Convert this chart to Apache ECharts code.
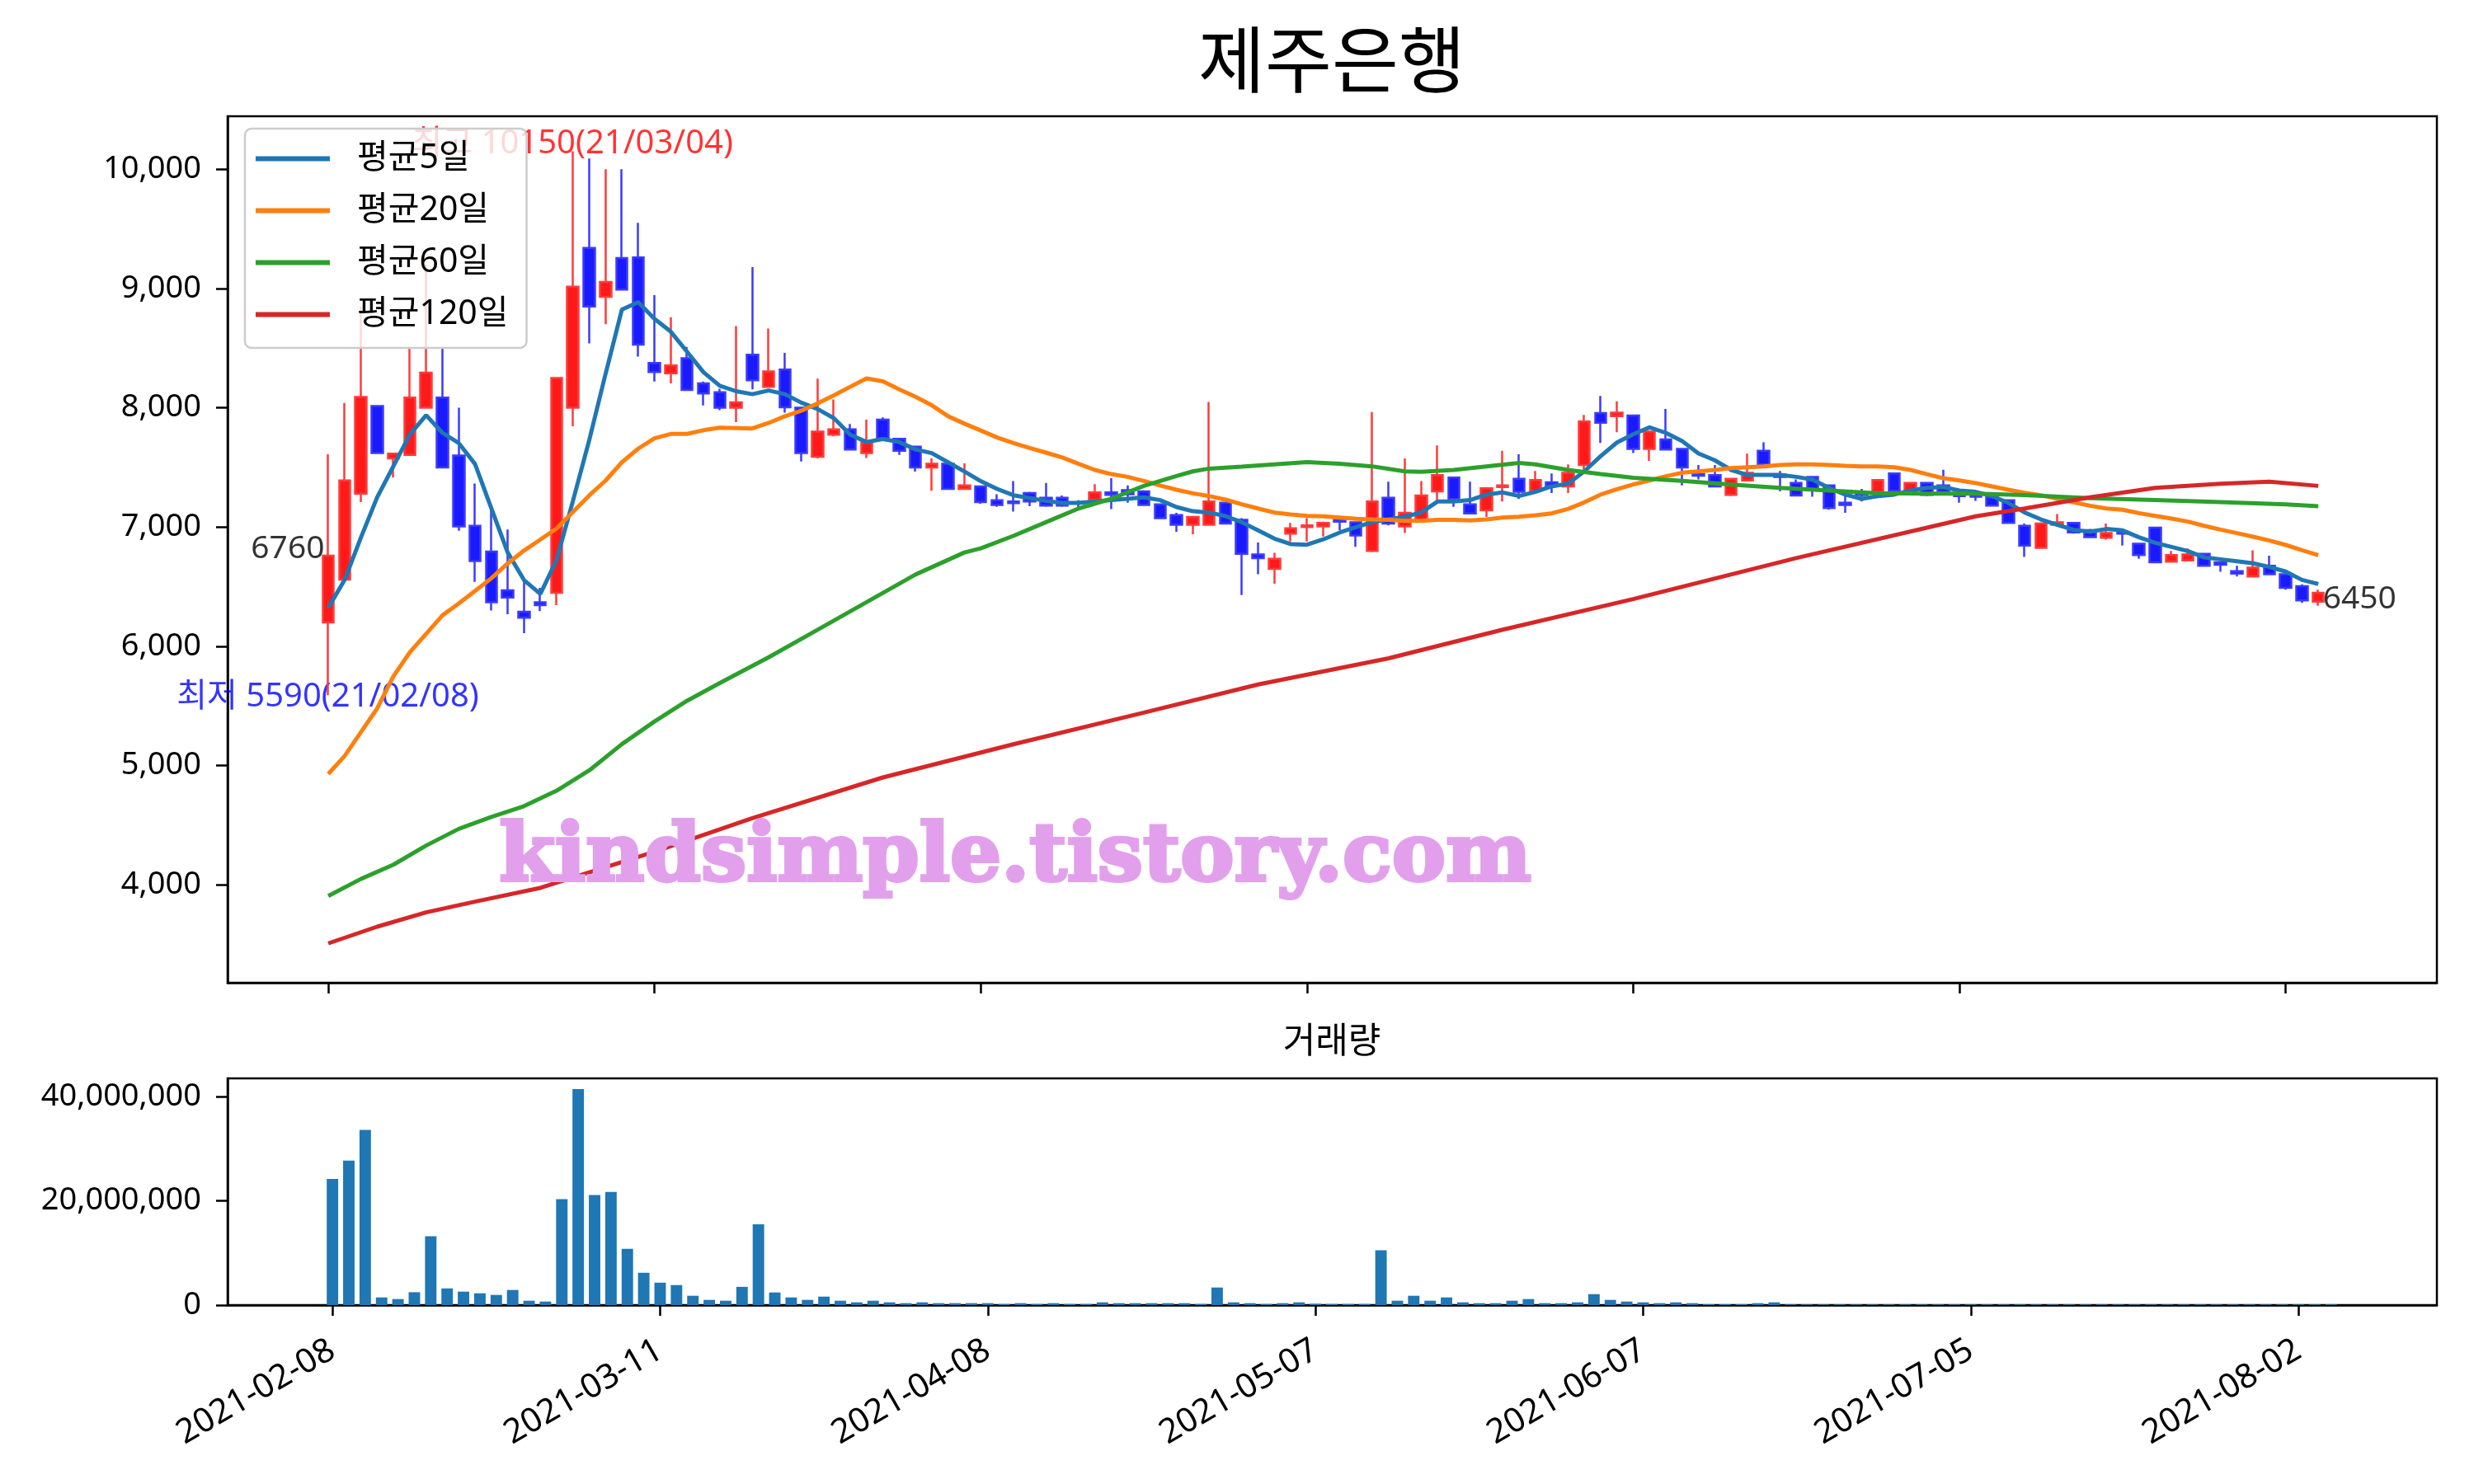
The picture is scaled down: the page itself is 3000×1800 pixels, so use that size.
<!DOCTYPE html>
<html><head><meta charset="utf-8">
<script src="https://cdn.jsdelivr.net/npm/echarts@6/dist/echarts.min.js"></script>
<style>html,body{margin:0;padding:0;background:#fff}#c{width:3000px;height:1800px}</style>
</head><body><div id="c"></div>
<script>
// ---- data (index = trading day from 2021-02-08) ----
const tickIdx = [0, 20, 40, 60, 80, 100, 120];
const tickLabels = ['2021-02-08','2021-03-11','2021-04-08','2021-05-07','2021-06-07','2021-07-05','2021-08-02'];
const priceTicks = [4000, 5000, 6000, 7000, 8000, 9000, 10000];
const volTicks = [0, 20000000, 40000000];

const opens = [6200,6560,7280,8015,7575,7605,8000,8085,7600,7010,
6795,6470,6290,6370,6450,8000,9340,8930,9255,9260,
8375,8290,8415,8205,8130,8000,8445,8175,8320,8000,
7590,7775,7820,7620,7900,7740,7675,7500,7530,7320,
7340,7225,7215,7285,7245,7245,7205,7230,7290,7310,
7300,7190,7100,7020,7020,7205,7060,6770,6650,6945,
7000,7005,7060,7040,6800,7245,7005,7065,7300,7415,
7190,7140,7335,7405,7305,7375,7340,7520,7955,7930,
7935,7655,7735,7655,7445,7435,7270,7390,7640,7440,
7370,7420,7350,7205,7290,7295,7450,7295,7370,7350,
7285,7285,7250,7225,7010,6825,7020,7035,6975,6910,
6960,6860,6995,6710,6720,6775,6705,6630,6585,6675,
6605,6505,6375];
const closes = [6760,7390,8090,7620,7615,8085,8295,7500,7005,6715,
6370,6410,6240,6345,8250,9015,8850,9055,8990,8530,
8300,8355,8150,8120,8000,8045,8230,8305,8005,7620,
7800,7820,7650,7705,7745,7640,7500,7530,7320,7350,
7210,7185,7200,7215,7180,7180,7200,7290,7270,7275,
7185,7075,7020,7085,7215,7030,6775,6740,6735,6990,
7015,7035,7045,6930,7215,7030,7120,7265,7435,7235,
7115,7325,7350,7295,7395,7350,7455,7885,7875,7960,
7655,7800,7650,7500,7430,7340,7405,7455,7525,7420,
7265,7320,7160,7185,7270,7395,7305,7370,7270,7295,
7260,7255,7180,7035,6845,7030,7040,6955,6915,6950,
6945,6765,6705,6765,6770,6675,6685,6610,6660,6605,
6490,6385,6450];
const lows = [5590,6550,7210,7620,7415,7605,8000,7500,6970,6540,
6300,6270,6110,6295,6345,7845,8540,8700,8990,8430,
8220,8205,8150,8020,7980,7880,8155,8175,7960,7550,
7575,7760,7650,7580,7745,7605,7465,7305,7320,7320,
7195,7170,7130,7175,7170,7170,7155,7230,7150,7205,
7185,7075,6960,6940,7020,7030,6430,6605,6525,6880,
6880,6920,6975,6835,6790,7015,6950,7065,7225,7170,
7115,7085,7215,7235,7305,7285,7285,7480,7705,7795,
7620,7555,7650,7350,7400,7340,7260,7390,7525,7300,
7265,7255,7145,7120,7215,7295,7305,7295,7260,7295,
7205,7220,7180,7035,6750,6825,7020,6945,6915,6895,
6845,6735,6705,6710,6720,6675,6625,6585,6585,6605,
6475,6365,6340];
const highs = [7610,8040,8850,8020,7620,8510,9200,8510,8000,7365,
7140,6980,6550,6490,8255,10150,10090,10000,10000,9550,
8945,8760,8510,8220,8160,8685,9180,8665,8460,8000,
8245,8070,7865,7900,7920,7745,7680,7575,7560,7535,
7345,7275,7385,7295,7370,7265,7225,7360,7410,7350,
7310,7195,7120,7090,8050,7210,7075,6870,6785,7035,
7075,7045,7065,7045,7965,7380,7575,7385,7685,7415,
7380,7325,7640,7610,7470,7450,7525,7940,8100,8055,
7935,7800,7990,7655,7520,7520,7405,7615,7710,7470,
7400,7420,7350,7260,7320,7395,7450,7370,7370,7480,
7320,7290,7260,7225,7030,7040,7110,7035,6985,7030,
6965,6865,6995,6800,6820,6780,6710,6675,6805,6760,
6605,6520,6475];
const volumes = [24200000,27700000,33600000,1470000,1160000,2470000,13200000,3200000,2580000,2260000,
1950000,2900000,840000,680000,20300000,41400000,21100000,21700000,10800000,6200000,
4300000,3840000,1790000,1000000,840000,3500000,15500000,2420000,1470000,1000000,
1630000,840000,530000,840000,530000,370000,530000,370000,370000,370000,
370000,200000,370000,200000,370000,200000,200000,530000,370000,370000,
370000,370000,370000,200000,3370000,530000,370000,200000,370000,530000,
250000,200000,200000,200000,10500000,840000,1790000,840000,1470000,530000,
370000,370000,840000,1160000,370000,370000,530000,2100000,1000000,680000,
530000,370000,530000,370000,150000,150000,150000,370000,530000,120000,
120000,120000,120000,120000,120000,120000,120000,120000,120000,120000,
120000,120000,120000,120000,120000,120000,120000,120000,120000,120000,
120000,120000,120000,120000,120000,120000,120000,120000,120000,120000,
120000,120000,120000];
const ma5 = [6324,6556,6911,7250,7512,7775,7938,7790,7704,7528,
7157,6787,6556,6439,6725,7219,7728,8284,8823,8885,
8746,8638,8469,8299,8185,8139,8114,8145,8114,8043,
7990,7913,7775,7713,7738,7713,7651,7620,7543,7466,
7385,7320,7267,7244,7219,7203,7203,7214,7226,7237,
7249,7226,7168,7133,7122,7092,7041,6972,6903,6857,
6852,6897,6954,7000,7041,7064,7087,7122,7214,7214,
7226,7272,7290,7260,7295,7341,7364,7467,7594,7709,
7778,7836,7790,7721,7617,7560,7479,7437,7437,7437,
7421,7398,7329,7272,7237,7260,7272,7306,7329,7336,
7306,7295,7260,7202,7122,7064,7018,6977,6961,6984,
6972,6915,6868,6834,6799,6746,6730,6714,6696,6666,
6627,6557,6523];
const ma20 = [4930,5080,5280,5480,5750,5950,6105,6260,6360,6465,
6571,6695,6803,6895,6988,7127,7265,7389,7543,7657,
7744,7781,7781,7812,7833,7830,7827,7873,7929,7975,
8037,8105,8176,8246,8222,8154,8092,8021,7929,7867,
7810,7751,7705,7663,7624,7583,7530,7479,7444,7421,
7387,7348,7313,7283,7260,7230,7191,7156,7122,7106,
7094,7090,7080,7069,7064,7060,7053,7053,7060,7060,
7055,7064,7080,7087,7099,7115,7152,7207,7272,7318,
7357,7391,7426,7456,7467,7479,7495,7502,7509,7520,
7525,7525,7520,7513,7509,7509,7502,7479,7444,7410,
7391,7368,7341,7313,7288,7267,7237,7207,7179,7156,
7145,7117,7094,7071,7046,7011,6979,6949,6919,6887,
6850,6806,6765];
// 60- and 120-day averages read at sample days: [day index, value]
const ma60 = [[0,3907],[2,4050],[4,4170],[6,4330],[8,4470],[10,4570],[12,4660],[14,4790],[16,4960],[18,5180],
[20,5370],[22,5544],[24,5692],[27,5908],[30,6139],[33,6371],[36,6602],[39,6787],[40,6822],[42,6926],
[44,7041],[46,7156],[48,7237],[50,7345],[52,7428],[53,7467],[54,7490],[56,7507],[58,7525],[60,7544],
[62,7530],[64,7509],[66,7467],[67,7463],[69,7479],[71,7509],[73,7537],[74,7525],[76,7479],[78,7444],
[80,7414],[83,7387],[86,7357],[89,7329],[92,7306],[95,7283],[98,7280],[101,7280],[104,7268],[108,7242],
[112,7226],[116,7209],[120,7191],[122,7175]];
const ma120 = [[0,3510],[3,3650],[6,3770],[9,3860],[13,3975],[20,4278],[26,4560],[34,4901],[42,5179],[50,5444],[57,5680],[65,5900],
[72,6140],[80,6396],[90,6740],[101,7090],[104,7156],[108,7249],[112,7329],[116,7364],[119,7380],[122,7345]];

const title = '제주은행';
const volTitle = '거래량';
const watermark = 'kindsimple.tistory.com';
const seriesNames = ['평균5일','평균20일','평균60일','평균120일'];
const lineColors = ['#1f77b4','#ff7f0e','#2ca02c','#d62728'];
const maxIdx = 15, minIdx = 0, lastIdx = 122;
const maxText = '최고 10150(21/03/04)';
const minText = '최저 5590(21/02/08)';

// ---- chart ----
const FONT = "'Noto Sans','Noto Sans CJK KR',sans-serif";
const chart = echarts.init(document.getElementById('c'), null, {renderer: 'canvas'});
const fmtNum = v => Math.round(v).toLocaleString('en-US');
const xLabel = v => { const k = tickIdx.indexOf(Math.round(v)); return k >= 0 ? tickLabels[k] : ''; };

const candleData = opens.map((o, i) => [i, o, closes[i], lows[i], highs[i]]);
const maLists = [ma5.map((v, i) => [i, v]), ma20.map((v, i) => [i, v]), ma60, ma120];

const lineSeries = maLists.map((d, k) => ({
  type: 'line', name: seriesNames[k], xAxisIndex: 0, yAxisIndex: 0, data: d,
  symbol: 'none', smooth: false, lineStyle: {color: lineColors[k], width: 5},
  itemStyle: {color: lineColors[k]}, z: 3, silent: true
}));

const axisLineStyle = {color: '#000', width: 2.5};
const option = {
  animation: false,
  backgroundColor: '#ffffff',
  textStyle: {fontFamily: FONT},
  grid: [
    {left: 276, top: 141, width: 2679, height: 1051, show: true, borderColor: '#000', borderWidth: 2.5, backgroundColor: 'transparent'},
    {left: 276, top: 1308, width: 2679, height: 275, show: true, borderColor: '#000', borderWidth: 2.5, backgroundColor: 'transparent'}
  ],
  xAxis: [
    {type: 'value', gridIndex: 0, min: -6.17, max: 129.27,
     axisLine: {show: true, onZero: false, lineStyle: axisLineStyle},
     axisTick: {show: true, length: 13, lineStyle: axisLineStyle, customValues: tickIdx},
     axisLabel: {show: false, customValues: tickIdx},
     splitLine: {show: false}},
    {type: 'value', gridIndex: 1, min: -6.40, max: 128.45,
     axisLine: {show: true, onZero: false, lineStyle: axisLineStyle},
     axisTick: {show: true, length: 13, lineStyle: axisLineStyle, customValues: tickIdx},
     axisLabel: {show: true, customValues: tickIdx, formatter: xLabel, rotate: 30, margin: 52,
                 fontSize: 41, color: '#000', fontFamily: FONT},
     splitLine: {show: false}}
  ],
  yAxis: [
    {type: 'value', gridIndex: 0, min: 3180, max: 10444,
     axisLine: {show: true, onZero: false, lineStyle: axisLineStyle},
     axisTick: {show: true, length: 14, lineStyle: axisLineStyle, customValues: priceTicks},
     axisLabel: {show: true, customValues: priceTicks, formatter: fmtNum, fontSize: 38, color: '#000', margin: 32, fontFamily: FONT},
     splitLine: {show: false}},
    {type: 'value', gridIndex: 1, min: 0, max: 43470000,
     axisLine: {show: true, onZero: false, lineStyle: axisLineStyle},
     axisTick: {show: true, length: 14, lineStyle: axisLineStyle, customValues: volTicks},
     axisLabel: {show: true, customValues: volTicks, formatter: fmtNum, fontSize: 38, color: '#000', margin: 32, fontFamily: FONT},
     splitLine: {show: false}}
  ],
  legend: {
    data: seriesNames, orient: 'vertical', left: 297, top: 156,
    icon: 'rect', itemWidth: 90, itemHeight: 6, itemGap: 22,
    padding: [16, 22, 20, 13],
    backgroundColor: 'rgba(255,255,255,0.8)', borderColor: '#cccccc', borderWidth: 2.5, borderRadius: 8,
    textStyle: {fontSize: 41, color: '#000', fontFamily: FONT, lineHeight: 41, padding: [0, 0, 0, 28]},
    selectedMode: false, z: 10
  },
  series: [
    {type: 'candlestick', name: 'ohlc', xAxisIndex: 0, yAxisIndex: 0, data: candleData,
     encode: {x: 0, y: [1, 2, 3, 4]}, barWidth: 14, silent: true, z: 2,
     itemStyle: {color: '#ff1a1a', color0: '#1a1aff', borderColor: '#ff3b3b', borderColor0: '#3b3bff', borderWidth: 2.5}},
    ...lineSeries,
    {type: 'scatter', name: 'notes', xAxisIndex: 0, yAxisIndex: 0, symbol: 'circle', symbolSize: 1,
     itemStyle: {color: 'rgba(0,0,0,0)'}, silent: true, z: 1,
     label: {show: true, formatter: '{b}', fontSize: 40, fontFamily: FONT, position: [0, 0]},
     data: [
       {name: maxText, value: [maxIdx, highs[maxIdx]], label: {color: '#ff0000', align: 'center', verticalAlign: 'middle', offset: [0, -8]}},
       {name: minText, value: [minIdx, lows[minIdx]], label: {color: '#0000ff', align: 'center', verticalAlign: 'middle', offset: [0, 3]}},
       {name: String(closes[0]), value: [0, closes[0]], label: {color: '#000', align: 'right', verticalAlign: 'middle', offset: [-4, -8], fontSize: 39}},
       {name: String(closes[lastIdx]), value: [lastIdx, closes[lastIdx]], label: {color: '#000', align: 'left', verticalAlign: 'middle', offset: [6, 9], fontSize: 39}}
     ]},
    {type: 'bar', name: 'vol', xAxisIndex: 1, yAxisIndex: 1, data: volumes.map((v, i) => [i, v]),
     barWidth: 13.9, itemStyle: {color: '#1f77b4'}, silent: true}
  ],
  graphic: [
    {type: 'text', z: 100, style: {text: title, x: 1615, y: 80, align: 'center', verticalAlign: 'middle', fontSize: 88, fill: '#000', fontFamily: FONT}},
    {type: 'text', z: 100, style: {text: volTitle, x: 1615, y: 1265, align: 'center', verticalAlign: 'middle', fontSize: 43, fill: '#000', fontFamily: FONT}},
    {type: 'text', z: 50, style: {text: watermark, x: 1231, y: 1043, align: 'center', verticalAlign: 'middle', fontSize: 98, fontWeight: 'bold', fill: '#e2a0ec', stroke: '#e2a0ec', lineWidth: 4, fontFamily: "'DejaVu Serif',serif"}}
  ]
};
chart.setOption(option);
</script></body></html>
